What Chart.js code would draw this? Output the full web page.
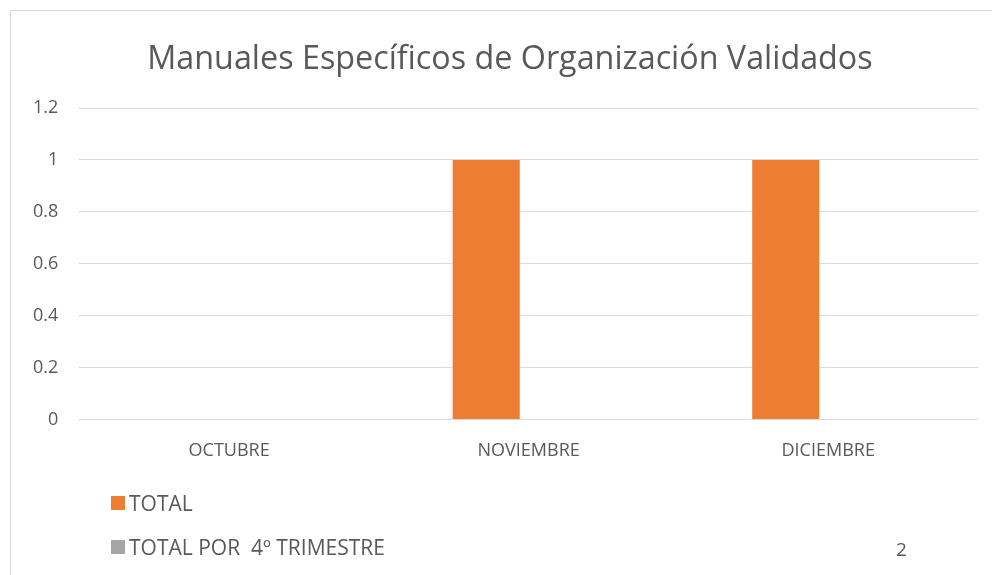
<!DOCTYPE html>
<html>
<head>
<meta charset="utf-8">
<script src="https://cdn.jsdelivr.net/npm/chart.js@4"></script>
<style>
  body { margin: 0; background: #fff; font-family: "Open Sans", sans-serif; }
  #wrap { position: absolute; left: 0; top: 0; width: 992px; height: 575px; }
  #frame { position: absolute; left: 10px; top: 10px; width: 990px; height: 570px; border: 1px solid #d9d9d9; box-sizing: border-box; }
  #title { position: absolute; left: 0; width: 1020px; top: 37px; text-align: center; font-size: 32.3px; line-height: 38px; color: #595959; }
  .leg { position: absolute; left: 111px; font-size: 21px; color: #595959; display: flex; align-items: center; line-height: 26px; }
  .leg span.sw { width: 14px; height: 14px; display: inline-block; margin-right: 4px; }
  #total2 { position: absolute; left: 896px; top: 536px; font-size: 19px; color: #595959; line-height: 26px; }
</style>
</head>
<body>
<div id="wrap">
  <div id="frame"></div>
  <canvas id="chart" width="992" height="575"></canvas>
  <div id="title">Manuales Específicos de Organización Validados</div>
  <div class="leg" style="top:490px"><span class="sw" style="background:#ed7d31"></span>TOTAL</div>
  <div class="leg" style="top:534px"><span class="sw" style="background:#a5a5a5"></span>TOTAL POR&nbsp; 4º TRIMESTRE</div>
  <div id="total2">2</div>
</div>
<script>
// ==================== DATA ====================
const categories = ['OCTUBRE', 'NOVIEMBRE', 'DICIEMBRE'];
const totalValues = [0, 1, 1];
const trimestreValues = [0, 0, 0];
const yTicks = [0, 0.2, 0.4, 0.6, 0.8, 1, 1.2];
const yTickLabels = ['0', '0.2', '0.4', '0.6', '0.8', '1', '1.2'];

const textColor = '#595959';
const gridColor = '#d9d9d9';

const ctx = document.getElementById('chart').getContext('2d');
new Chart(ctx, {
  type: 'bar',
  data: {
    labels: categories,
    datasets: [
      {
        label: 'TOTAL',
        data: totalValues,
        backgroundColor: '#ed7d31',
        categoryPercentage: 0.567,
        barPercentage: 0.79,
      },
      {
        label: 'TOTAL POR  4º TRIMESTRE',
        data: trimestreValues,
        backgroundColor: '#a5a5a5',
        categoryPercentage: 0.567,
        barPercentage: 0.79,
      },
    ],
  },
  options: {
    responsive: false,
    animation: false,
    layout: { padding: { left: 12, right: 14, top: 108, bottom: 100 } },
    plugins: {
      legend: { display: false },
      tooltip: { enabled: false },
    },
    scales: {
      x: {
        grid: { display: false },
        border: { display: false },
        ticks: { color: textColor, font: { family: 'Open Sans', size: 18 }, padding: 13 },
      },
      y: {
        min: 0,
        max: 1.2,
        afterBuildTicks: (axis) => { axis.ticks = yTicks.map((v) => ({ value: v })); },
        grid: { color: gridColor, lineWidth: 1, drawTicks: false },
        border: { display: false },
        ticks: {
          color: textColor,
          font: { family: 'Open Sans', size: 18 },
          padding: 21,
          callback: (v) => yTickLabels[yTicks.indexOf(v)] ?? '',
        },
      },
    },
  },
});
</script>
</body>
</html>
